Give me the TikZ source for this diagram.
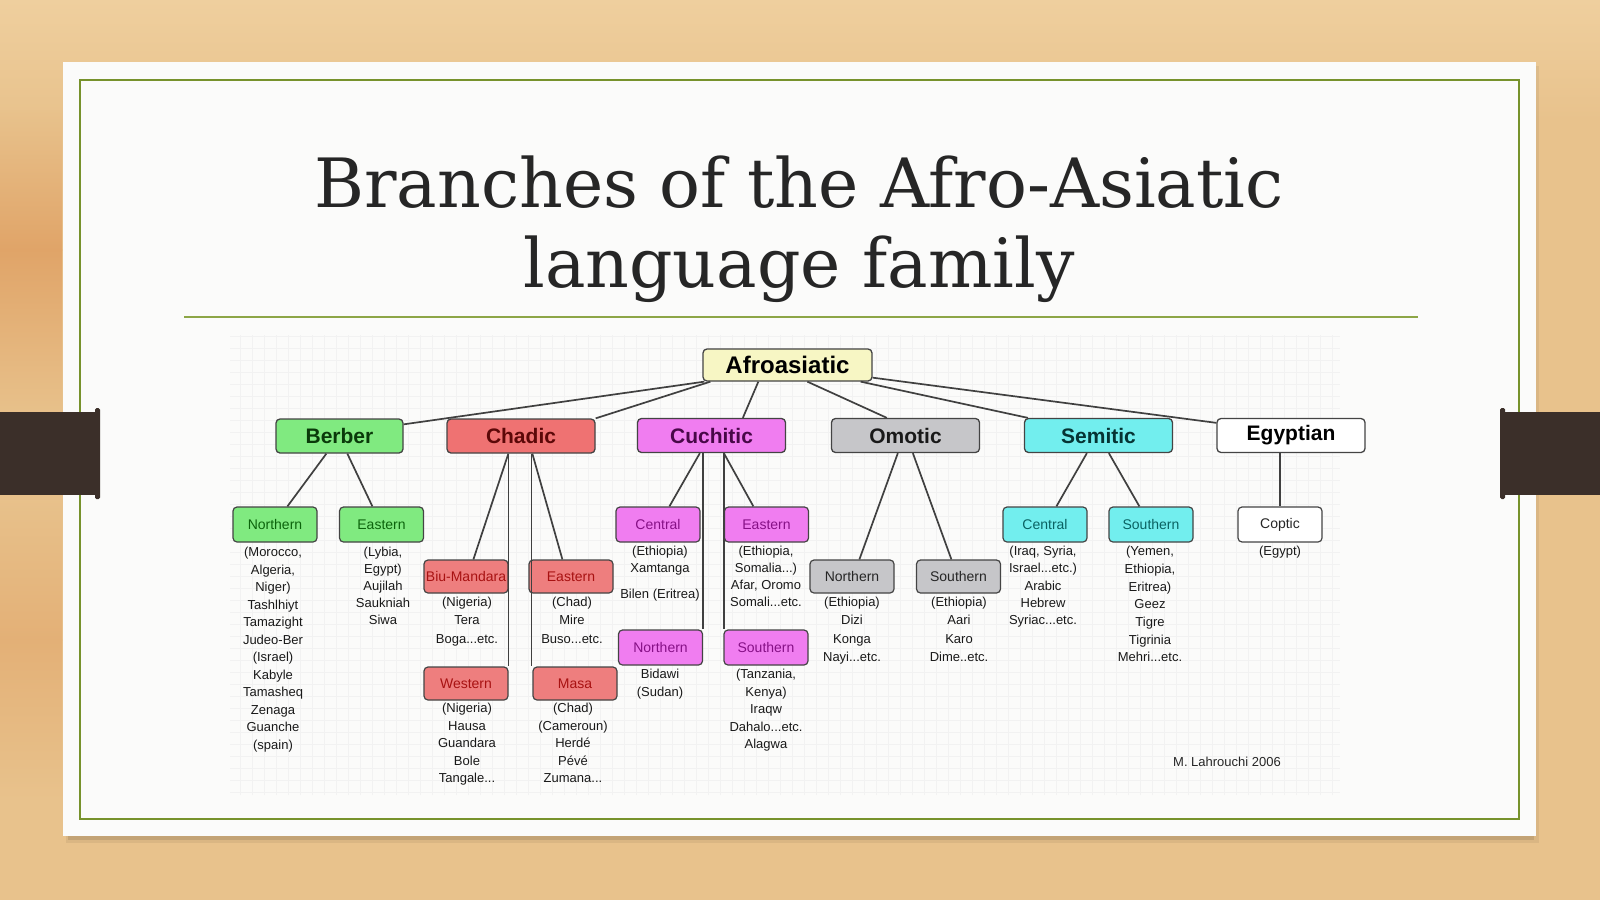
\documentclass[tikz,border=0pt]{standalone}
\usepackage{fontspec}
\setmainfont{Liberation Sans}
\newfontfamily\titlefont{DejaVu Serif}
\usetikzlibrary{calc}
\definecolor{woodA}{HTML}{E8C28C}
\definecolor{woodB}{HTML}{E0A468}
\definecolor{woodC}{HTML}{EFCF9E}
\definecolor{cardc}{HTML}{FBFBFA}
\definecolor{frameg}{HTML}{77922C}
\definecolor{ruleg}{HTML}{8DA646}
\definecolor{tabc}{HTML}{3B2F29}
\definecolor{titlec}{HTML}{262626}
\definecolor{afroc}{HTML}{F7F6C4}
\definecolor{berc}{HTML}{80EA80}
\definecolor{bertx}{HTML}{0A3A0A}
\definecolor{bersub}{HTML}{0C640C}
\definecolor{chac}{HTML}{EF7272}
\definecolor{chasub}{HTML}{EE7E7E}
\definecolor{chatx}{HTML}{5C0808}
\definecolor{chasubtx}{HTML}{A81212}
\definecolor{cucc}{HTML}{F07DF0}
\definecolor{cuctx}{HTML}{480848}
\definecolor{cucsubtx}{HTML}{861086}
\definecolor{omoc}{HTML}{C6C6C9}
\definecolor{semc}{HTML}{72EEEE}
\definecolor{semtx}{HTML}{063434}
\definecolor{semsubtx}{HTML}{0A6262}
\definecolor{boxline}{HTML}{444444}
\tikzset{
  lone/.style={draw=boxline, line width=1.3pt, rounded corners=4pt, minimum width=148pt,
    minimum height=34pt, inner sep=0pt, font=\fontsize{21}{24}\selectfont\bfseries},
  ltwo/.style={draw=boxline, line width=1.2pt, rounded corners=4pt, minimum width=84pt,
    minimum height=35pt, inner sep=0pt, font=\fontsize{14}{16}\selectfont},
  note/.style={anchor=north, align=center, inner sep=0pt, text=black!90,
    font=\fontsize{13}{17.5}\selectfont},
  link/.style={draw=black!75, line width=1.7pt},
}
\begin{document}
\begin{tikzpicture}[x=1pt,y=-1pt]
\useasboundingbox (0,0) rectangle (1600,900);
% wood background
\shade[top color=woodC, bottom color=woodA] (0,0) rectangle (1600,120);
\fill[woodA] (0,119) rectangle (1600,900);
\shade[top color=woodA, bottom color=woodB] (0,110) rectangle (62,250);
\shade[top color=woodB, bottom color=woodA] (0,249) rectangle (62,420);
\shade[top color=woodA, bottom color=woodB!60!woodA] (0,490) rectangle (62,640);
\shade[top color=woodB!60!woodA, bottom color=woodA] (0,639) rectangle (62,800);
% card and shadow
\fill[black, opacity=.06] (66,66) rectangle (1539,843);
\fill[black, opacity=.10] (68,834) rectangle (1534,840);
\fill[cardc] (63,62) rectangle (1536,836);
\draw[frameg, line width=1.8pt] (80,80) rectangle (1519,819);
% tabs
\fill[tabc] (0,412) rectangle (100,495);
\fill[tabc, rounded corners=1.5pt] (95,408) rectangle (100,499);
\fill[tabc] (1500,412) rectangle (1600,495);
\fill[tabc, rounded corners=1.5pt] (1500,408) rectangle (1505,499);
% title
\node[anchor=base, inner sep=0pt, text=titlec, font=\titlefont\fontsize{68}{80}\selectfont]
  (t1) at (799,207) {Branches of the Afro-Asiatic};
\node[anchor=base, inner sep=0pt, text=titlec, font=\titlefont\fontsize{68}{80}\selectfont]
  (t2) at (799,287) {language family};
\draw[ruleg, line width=2.2pt] (184,317) -- (1418,317);
% faint grid
\draw[black!5, line width=.5pt, step=12pt] (230,335) grid (1340,795);
% level 0
\node[lone, minimum width=169pt, minimum height=32pt, fill=afroc,
  font=\fontsize{24}{28}\selectfont\bfseries] (afro) at (787.5,365) {Afroasiatic};
% level 1
\node[lone, minimum width=127pt, fill=berc, text=bertx] (ber) at (339.5,436) {Berber};
\node[lone, fill=chac, text=chatx] (cha) at (521,436) {Chadic};
\node[lone, fill=cucc, text=cuctx] (cuc) at (711.5,435.5) {Cuchitic};
\node[lone, fill=omoc, text=black!90] (omo) at (905.5,435.5) {Omotic};
\node[lone, fill=semc, text=semtx] (sem) at (1098.5,435.5) {Semitic};
\node[lone, fill=white, text=black] (egy) at (1291,435.5) {Egyptian};
% level 2
\node[ltwo, fill=berc, text=bersub] (bN) at (275,524.5) {Northern};
\node[ltwo, fill=berc, text=bersub] (bE) at (381.5,524.5) {Eastern};
\node[ltwo, minimum height=33pt, fill=chasub, text=chasubtx] (cB) at (466,576.5) {Biu-Mandara};
\node[ltwo, minimum height=33pt, fill=chasub, text=chasubtx] (cE) at (571,576.5) {Eastern};
\node[ltwo, minimum height=33pt, fill=chasub, text=chasubtx] (cW) at (466,683.5) {Western};
\node[ltwo, minimum height=33pt, fill=chasub, text=chasubtx] (cM) at (575,683.5) {Masa};
\node[ltwo, fill=cucc, text=cucsubtx] (kC) at (658,524.5) {Central};
\node[ltwo, fill=cucc, text=cucsubtx] (kE) at (766.5,524.5) {Eastern};
\node[ltwo, fill=cucc, text=cucsubtx] (kN) at (660.5,647.5) {Northern};
\node[ltwo, fill=cucc, text=cucsubtx] (kS) at (766,647.5) {Southern};
\node[ltwo, minimum height=33pt, fill=omoc, text=black!85] (oN) at (852,576.5) {Northern};
\node[ltwo, minimum height=33pt, fill=omoc, text=black!85] (oS) at (958.5,576.5) {Southern};
\node[ltwo, fill=semc, text=semsubtx] (sC) at (1045,524.5) {Central};
\node[ltwo, fill=semc, text=semsubtx] (sS) at (1151,524.5) {Southern};
\node[ltwo, fill=white, text=black!85] (eC) at (1280,524.5) {Coptic};
% connectors level 0 -> 1
\draw[link] ([xshift=2pt]afro.south west) -- ([yshift=-6pt]ber.north east);
\draw[link] ([xshift=8pt]afro.south west) -- (cha.north east);
\draw[link] ([xshift=56pt]afro.south west) -- ([xshift=106pt]cuc.north west);
\draw[link] ([xshift=105pt]afro.south west) -- ([xshift=56pt]omo.north west);
\draw[link] ([xshift=-12pt]afro.south east) -- ([xshift=4pt]sem.north west);
\draw[link] ([yshift=4pt]afro.south east) -- ([yshift=-5pt]egy.north west);
% connectors level 1 -> 2
\draw[link] ([xshift=51pt]ber.south west) -- ([xshift=55pt]bN.north west);
\draw[link] ([xshift=72pt]ber.south west) -- ([xshift=33.5pt]bE.north west);
\draw[link] ([xshift=62pt]cha.south west) -- ([xshift=50pt]cB.north west);
\draw[link] ([xshift=62pt]cha.south west) -- ([xshift=62pt]cha.south west |- cW.north);
\draw[link] ([xshift=85pt]cha.south west) -- ([xshift=85pt]cha.south west |- cM.north);
\draw[link] ([xshift=86pt]cha.south west) -- ([xshift=34pt]cE.north west);
\draw[link] ([xshift=63pt]cuc.south west) -- ([xshift=54pt]kC.north west);
\draw[link] ([xshift=66pt]cuc.south west) -- ([xshift=66pt]cuc.south west |- kN.north);
\draw[link] ([xshift=87pt]cuc.south west) -- ([xshift=87pt]cuc.south west |- kS.north);
\draw[link] ([xshift=87pt]cuc.south west) -- ([xshift=29.5pt]kE.north west);
\draw[link] ([xshift=67pt]omo.south west) -- ([xshift=50pt]oN.north west);
\draw[link] ([xshift=82pt]omo.south west) -- ([xshift=35.5pt]oS.north west);
\draw[link] ([xshift=63pt]sem.south west) -- ([xshift=54pt]sC.north west);
\draw[link] ([xshift=85pt]sem.south west) -- ([xshift=31pt]sS.north west);
\draw[link] (eC.north |- egy.south) -- (eC.north);
% notes
\node[note] (nbN) at (273,547) {(Morocco,\\Algeria,\\Niger)\\Tashlhiyt\\Tamazight\\Judeo-Ber\\(Israel)\\Kabyle\\Tamasheq\\Zenaga\\Guanche\\(spain)};
\node[note, font=\fontsize{13}{17}\selectfont] (nbE) at (383,547) {(Lybia,\\Egypt)\\Aujilah\\Saukniah\\Siwa};
\node[note] (ncB) at (467,597) {(Nigeria)\\Tera\\[2pt]Boga...etc.};
\node[note] (ncE) at (572,597) {(Chad)\\Mire\\[2pt]Buso...etc.};
\node[note] (ncW) at (467,703) {(Nigeria)\\Hausa\\Guandara\\Bole\\Tangale...};
\node[note] (ncM) at (573,703) {(Chad)\\(Cameroun)\\Herdé\\Pévé\\Zumana...};
\node[note, font=\fontsize{13}{17}\selectfont] (nkC) at (660,546) {(Ethiopia)\\Xamtanga\\[9pt]Bilen (Eritrea)};
\node[note, font=\fontsize{13}{17}\selectfont] (nkE) at (766,546) {(Ethiopia,\\Somalia...)\\Afar, Oromo\\Somali...etc.};
\node[note] (nkN) at (660,669) {Bidawi\\(Sudan)};
\node[note] (nkS) at (766,669) {(Tanzania,\\Kenya)\\Iraqw\\Dahalo...etc.\\Alagwa};
\node[note, font=\fontsize{13}{18.3}\selectfont] (noN) at (852,597) {(Ethiopia)\\Dizi\\Konga\\Nayi...etc.};
\node[note, font=\fontsize{13}{18.3}\selectfont] (noS) at (959,597) {(Ethiopia)\\Aari\\Karo\\Dime..etc.};
\node[note, font=\fontsize{13}{17.2}\selectfont] (nsC) at (1043,546) {(Iraq, Syria,\\Israel...etc.)\\Arabic\\Hebrew\\Syriac...etc.};
\node[note, font=\fontsize{13}{17.7}\selectfont] (nsS) at (1150,546) {(Yemen,\\Ethiopia,\\Eritrea)\\Geez\\Tigre\\Tigrinia\\Mehri...etc.};
\node[note] (neC) at (1280,546) {(Egypt)};
\node[inner sep=0pt, text=black!85, font=\fontsize{13}{15}\selectfont] (credit) at (1227,762) {M. Lahrouchi 2006};
\end{tikzpicture}
\end{document}
